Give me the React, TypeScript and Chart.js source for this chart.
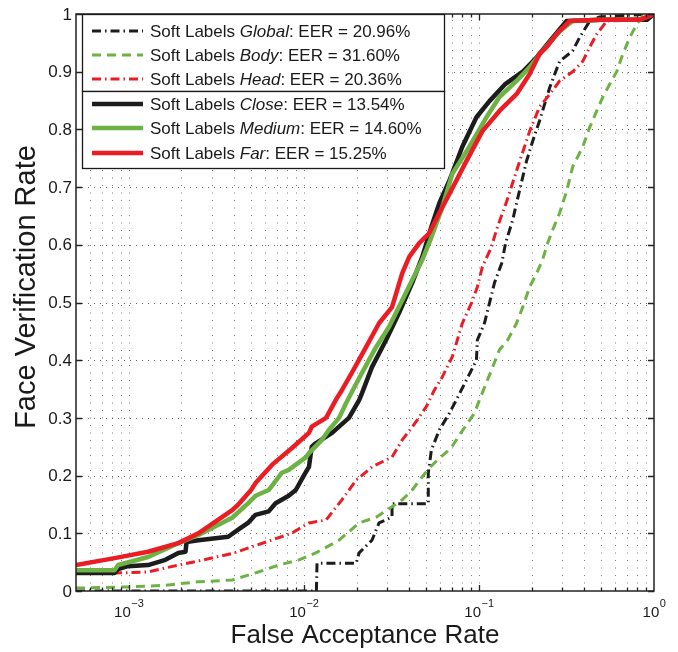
import React, { useEffect, useRef } from 'react';
import { Chart, registerables } from 'chart.js';

Chart.register(...registerables);

// ---- Data (False Acceptance Rate, Face Verification Rate) ----
const globalFar = [0.0005, 0.0118, 0.0119, 0.0199, 0.0207, 0.0245, 0.0269, 0.0319, 0.0319, 0.0514, 0.0514, 0.0535, 0.0594, 0.0678, 0.0743, 0.0968, 0.098, 0.1075, 0.1149, 0.1227, 0.135, 0.142, 0.156, 0.164, 0.187, 0.203, 0.222, 0.254, 0.289, 0.343, 0.377, 0.43, 0.49, 1];
const globalVer = [0, 0, 0.048, 0.048, 0.066, 0.088, 0.118, 0.128, 0.151, 0.151, 0.204, 0.244, 0.279, 0.308, 0.331, 0.40, 0.435, 0.464, 0.499, 0.534, 0.568, 0.603, 0.643, 0.672, 0.745, 0.78, 0.815, 0.873, 0.918, 0.936, 0.96, 0.988, 0.995, 1];

const bodyFar = [0.0005, 0.00099, 0.00162, 0.0025, 0.0039, 0.0055, 0.0072, 0.0094, 0.0117, 0.0159, 0.0207, 0.0259, 0.0319, 0.0365, 0.0416, 0.0475, 0.052, 0.0594, 0.0695, 0.0773, 0.0848, 0.0942, 0.1007, 0.118, 0.131, 0.146, 0.164, 0.178, 0.195, 0.214, 0.231, 0.247, 0.264, 0.289, 0.301, 0.317, 0.343, 0.392, 0.43, 0.471, 0.51, 0.56, 0.614, 0.664, 0.729, 0.799, 0.865, 1];
const bodyVer = [0.005, 0.007, 0.01, 0.016, 0.019, 0.033, 0.045, 0.054, 0.066, 0.088, 0.118, 0.128, 0.146, 0.158, 0.175, 0.198, 0.213, 0.23, 0.248, 0.27, 0.288, 0.308, 0.331, 0.383, 0.418, 0.435, 0.464, 0.492, 0.527, 0.551, 0.574, 0.603, 0.626, 0.655, 0.672, 0.693, 0.735, 0.77, 0.804, 0.832, 0.856, 0.879, 0.901, 0.931, 0.96, 0.983, 0.997, 1];

const headFar = [0.0005, 0.00083, 0.00129, 0.00162, 0.0025, 0.0039, 0.0061, 0.0085, 0.0107, 0.0134, 0.0165, 0.0199, 0.0245, 0.0319, 0.0365, 0.0416, 0.05, 0.0556, 0.0618, 0.0705, 0.0804, 0.0906, 0.098, 0.1047, 0.118, 0.126, 0.144, 0.171, 0.195, 0.222, 0.254, 0.289, 0.343, 0.392, 0.43, 0.471, 0.538, 0.831, 1];
const headVer = [0.031, 0.031, 0.033, 0.04, 0.052, 0.065, 0.085, 0.10, 0.118, 0.123, 0.158, 0.192, 0.215, 0.232, 0.262, 0.284, 0.319, 0.348, 0.371, 0.406, 0.464, 0.499, 0.527, 0.562, 0.596, 0.626, 0.675, 0.745, 0.797, 0.839, 0.861, 0.884, 0.90, 0.918, 0.943, 0.965, 0.988, 0.99, 1];

const closeFar = [0.0005, 0.00083, 0.00087, 0.00099, 0.00129, 0.00162, 0.00192, 0.00211, 0.00214, 0.0025, 0.0037, 0.0042, 0.0048, 0.0053, 0.0063, 0.0069, 0.0082, 0.009, 0.01, 0.0107, 0.0111, 0.0117, 0.0145, 0.0181, 0.0207, 0.0215, 0.0245, 0.0295, 0.035, 0.0416, 0.0475, 0.0535, 0.0594, 0.0678, 0.0804, 0.0968, 0.1149, 0.142, 0.178, 0.214, 0.254, 0.317, 0.5, 0.912, 1];
const closeVer = [0.031, 0.031, 0.038, 0.043, 0.045, 0.054, 0.066, 0.068, 0.085, 0.088, 0.094, 0.106, 0.118, 0.132, 0.138, 0.152, 0.165, 0.175, 0.2, 0.215, 0.25, 0.256, 0.274, 0.30, 0.331, 0.343, 0.388, 0.435, 0.482, 0.534, 0.579, 0.631, 0.672, 0.711, 0.77, 0.821, 0.849, 0.879, 0.90, 0.925, 0.953, 0.988, 0.99, 0.99, 1];

const mediumFar = [0.0005, 0.00083, 0.00087, 0.00129, 0.00192, 0.0025, 0.0039, 0.0048, 0.0053, 0.0063, 0.0075, 0.0082, 0.0103, 0.0107, 0.0127, 0.0139, 0.0159, 0.0174, 0.0188, 0.0215, 0.0259, 0.0307, 0.0365, 0.0416, 0.0475, 0.0535, 0.061, 0.0705, 0.0882, 0.1104, 0.131, 0.164, 0.195, 0.231, 0.289, 0.343, 0.5, 0.831, 1];
const mediumVer = [0.036, 0.036, 0.045, 0.059, 0.083, 0.097, 0.127, 0.152, 0.165, 0.175, 0.205, 0.21, 0.232, 0.239, 0.262, 0.279, 0.30, 0.325, 0.345, 0.378, 0.423, 0.458, 0.504, 0.539, 0.574, 0.613, 0.66, 0.723, 0.77, 0.821, 0.856, 0.884, 0.908, 0.936, 0.97, 0.988, 0.99, 0.99, 1];

const farFar = [0.0005, 0.00083, 0.00129, 0.00192, 0.0025, 0.0039, 0.0042, 0.005, 0.0053, 0.0066, 0.0085, 0.0107, 0.0111, 0.0134, 0.0155, 0.0165, 0.0188, 0.0227, 0.0269, 0.0319, 0.0365, 0.04, 0.0456, 0.052, 0.0594, 0.0678, 0.0848, 0.1047, 0.131, 0.164, 0.195, 0.222, 0.244, 0.278, 0.33, 0.5, 0.831, 1];
const farVer = [0.045, 0.057, 0.068, 0.083, 0.10, 0.14, 0.149, 0.175, 0.187, 0.219, 0.247, 0.274, 0.285, 0.30, 0.335, 0.348, 0.378, 0.423, 0.464, 0.492, 0.551, 0.579, 0.603, 0.62, 0.655, 0.688, 0.745, 0.797, 0.832, 0.861, 0.896, 0.931, 0.943, 0.965, 0.988, 0.99, 0.99, 1];

const seriesNames = ['Global', 'Body', 'Head', 'Close', 'Medium', 'Far'];
const eerLabels = ['20.96%', '31.60%', '20.36%', '13.54%', '14.60%', '15.25%'];
const yTickValues = [0, 0.1, 0.2, 0.3, 0.4, 0.5, 0.6, 0.7, 0.8, 0.9, 1];
const yTickLabels = ['0', '0.1', '0.2', '0.3', '0.4', '0.5', '0.6', '0.7', '0.8', '0.9', '1'];
const xDecadeExps = [-3, -2, -1, 0];
const xDecadeLabels = ['\u22123', '\u22122', '\u22121', '0'];
const xTitle = 'False Acceptance Rate';
const yTitle = 'Face Verification Rate';
const legendPrefix = 'Soft Labels ';

const X_MIN = 0.0005;
const X_MAX = 1;

const BLACK = '#1c1c1c';
const GREEN = '#6cb244';
const RED = '#ec1c24';
const FONT = '"Liberation Sans", Arial, Helvetica, sans-serif';

const pts = (xs: number[], ys: number[]) => xs.map((x, i) => ({ x, y: ys[i] }));

const framePlugin = {
  id: 'matlabFrame',
  beforeDatasetsDraw(chart: any) {
    const { ctx, chartArea: a, scales } = chart;
    const xs = scales.x;
    const ys = scales.y;
    ctx.save();
    ctx.lineWidth = 1;
    ctx.strokeStyle = 'rgba(70,70,70,0.7)';
    ctx.setLineDash([1, 6.5]);
    for (let e = -4; e <= 0; e++) {
      for (let m = 1; m <= 9; m++) {
        const v = m * Math.pow(10, e);
        if (v <= X_MIN * 1.0001 || v >= X_MAX * 0.9999) continue;
        const px = Math.round(xs.getPixelForValue(v)) + 0.5;
        ctx.beginPath();
        ctx.moveTo(px, a.bottom);
        ctx.lineTo(px, a.top);
        ctx.stroke();
      }
    }
    ctx.strokeStyle = 'rgba(50,50,50,0.75)';
    ctx.setLineDash([1, 5]);
    for (const v of yTickValues) {
      if (v <= 0 || v >= 1) continue;
      const py = Math.round(ys.getPixelForValue(v)) + 0.5;
      ctx.beginPath();
      ctx.moveTo(a.left, py);
      ctx.lineTo(a.right, py);
      ctx.stroke();
    }
    ctx.restore();
  },
  afterDatasetsDraw(chart: any) {
    const { ctx, chartArea: a, scales } = chart;
    const xs = scales.x;
    const ys = scales.y;
    ctx.save();
    ctx.setLineDash([]);
    ctx.strokeStyle = '#222';
    ctx.lineWidth = 1.3;
    // ticks (inward, all four sides)
    for (let e = -4; e <= 0; e++) {
      for (let m = 1; m <= 9; m++) {
        const v = m * Math.pow(10, e);
        if (v <= X_MIN * 1.0001 || v >= X_MAX * 0.9999) continue;
        const px = Math.round(xs.getPixelForValue(v)) + 0.5;
        const len = m === 1 ? 6 : 3.5;
        ctx.beginPath();
        ctx.moveTo(px, a.bottom);
        ctx.lineTo(px, a.bottom - len);
        ctx.moveTo(px, a.top);
        ctx.lineTo(px, a.top + len);
        ctx.stroke();
      }
    }
    for (const v of yTickValues) {
      const py = Math.round(ys.getPixelForValue(v)) + 0.5;
      ctx.beginPath();
      ctx.moveTo(a.left, py);
      ctx.lineTo(a.left + 6, py);
      ctx.moveTo(a.right, py);
      ctx.lineTo(a.right - 6, py);
      ctx.stroke();
    }
    // box
    ctx.lineWidth = 1.5;
    ctx.strokeRect(a.left, a.top, a.right - a.left, a.bottom - a.top);

    // y tick labels
    ctx.fillStyle = '#1a1a1a';
    ctx.font = `17px ${FONT}`;
    ctx.textAlign = 'right';
    ctx.textBaseline = 'middle';
    yTickValues.forEach((v, i) => {
      ctx.fillText(yTickLabels[i], a.left - 4, ys.getPixelForValue(v) + 1);
    });

    // x tick labels 10^k
    ctx.textBaseline = 'alphabetic';
    ctx.textAlign = 'left';
    xDecadeExps.forEach((e, i) => {
      const px = xs.getPixelForValue(Math.pow(10, e));
      ctx.font = `15px ${FONT}`;
      const w1 = ctx.measureText('10').width;
      ctx.font = `11px ${FONT}`;
      const w2 = ctx.measureText(xDecadeLabels[i]).width;
      const start = px - (w1 + w2) / 2;
      ctx.font = `15px ${FONT}`;
      ctx.fillText('10', start, a.bottom + 26);
      ctx.font = `11px ${FONT}`;
      ctx.fillText(xDecadeLabels[i], start + w1 + 0.5, a.bottom + 16);
    });

    // axis titles
    ctx.textAlign = 'center';
    ctx.font = `26px ${FONT}`;
    ctx.fillText(xTitle, (a.left + a.right) / 2, a.bottom + 52);
    ctx.save();
    ctx.translate(35, 287);
    ctx.rotate(-Math.PI / 2);
    ctx.font = `29px ${FONT}`;
    ctx.fillText(yTitle, 0, 0);
    ctx.restore();

    // legend (two stacked boxes)
    const L = 82;
    const R = 444;
    const boxes = [
      { top: 14, bottom: 91, idx: [0, 1, 2], rows: [31, 55, 79] },
      { top: 91, bottom: 168, idx: [3, 4, 5], rows: [104, 128, 153] },
    ];
    const dsByName: Record<string, any> = {};
    chart.data.datasets.forEach((d: any) => { dsByName[d.label] = d; });
    for (const b of boxes) {
      ctx.fillStyle = '#fff';
      ctx.fillRect(L, b.top, R - L, b.bottom - b.top);
      ctx.strokeStyle = '#1a1a1a';
      ctx.lineWidth = 1.3;
      ctx.setLineDash([]);
      ctx.strokeRect(L + 0.5, b.top + 0.5, R - L, b.bottom - b.top);
      b.idx.forEach((si, k) => {
        const y = b.rows[k];
        const ds = dsByName[seriesNames[si]];
        ctx.save();
        ctx.strokeStyle = ds.borderColor;
        ctx.lineWidth = ds.borderWidth;
        ctx.setLineDash(ds.borderDash || []);
        ctx.beginPath();
        ctx.moveTo(92, y);
        ctx.lineTo(143, y);
        ctx.stroke();
        ctx.restore();
        ctx.fillStyle = '#1a1a1a';
        ctx.textAlign = 'left';
        ctx.textBaseline = 'middle';
        let x = 150;
        ctx.font = `17px ${FONT}`;
        ctx.fillText(legendPrefix, x, y + 1);
        x += ctx.measureText(legendPrefix).width;
        ctx.font = `italic 17px ${FONT}`;
        ctx.fillText(seriesNames[si], x, y + 1);
        x += ctx.measureText(seriesNames[si]).width;
        ctx.font = `17px ${FONT}`;
        ctx.fillText(`: EER = ${eerLabels[si]}`, x, y + 1);
      });
    }
    ctx.restore();
  },
};

export default function App() {
  const ref = useRef<HTMLCanvasElement>(null);
  useEffect(() => {
    const chart = new Chart(ref.current as HTMLCanvasElement, {
      type: 'line',
      data: {
        datasets: [
          { label: 'Far', data: pts(farFar, farVer), borderColor: RED, borderWidth: 4.5, order: 0 },
          { label: 'Medium', data: pts(mediumFar, mediumVer), borderColor: GREEN, borderWidth: 4.5, order: 1 },
          { label: 'Close', data: pts(closeFar, closeVer), borderColor: BLACK, borderWidth: 4.5, order: 2 },
          { label: 'Head', data: pts(headFar, headVer), borderColor: RED, borderWidth: 3, borderDash: [9, 4, 1.5, 4], order: 3 },
          { label: 'Body', data: pts(bodyFar, bodyVer), borderColor: GREEN, borderWidth: 3, borderDash: [9, 6], order: 4 },
          { label: 'Global', data: pts(globalFar, globalVer), borderColor: BLACK, borderWidth: 3, borderDash: [9, 4, 1.5, 4], order: 5 },
        ] as any,
      },
      options: {
        animation: false,
        responsive: false,
        devicePixelRatio: 1,
        layout: { padding: { top: 14, right: 24, left: 0, bottom: 0 } },
        elements: { point: { radius: 0 }, line: { tension: 0, borderJoinStyle: 'round', borderCapStyle: 'butt' } },
        plugins: { legend: { display: false }, tooltip: { enabled: false }, title: { display: false } },
        scales: {
          x: {
            type: 'logarithmic',
            min: X_MIN,
            max: X_MAX,
            grid: { display: false },
            border: { display: false },
            ticks: { display: false },
            afterFit: (s: any) => { s.height = 61; },
          },
          y: {
            type: 'linear',
            min: 0,
            max: 1,
            grid: { display: false },
            border: { display: false },
            ticks: { display: false },
            afterFit: (s: any) => { s.width = 76; },
          },
        },
      } as any,
      plugins: [framePlugin],
    });
    return () => chart.destroy();
  }, []);
  return (
    <div style={{ position: 'absolute', left: 0, top: 0, width: 678, height: 652, background: '#fff' }}>
      <canvas ref={ref} width={678} height={652} style={{ display: 'block', width: 678, height: 652 }} />
    </div>
  );
}
